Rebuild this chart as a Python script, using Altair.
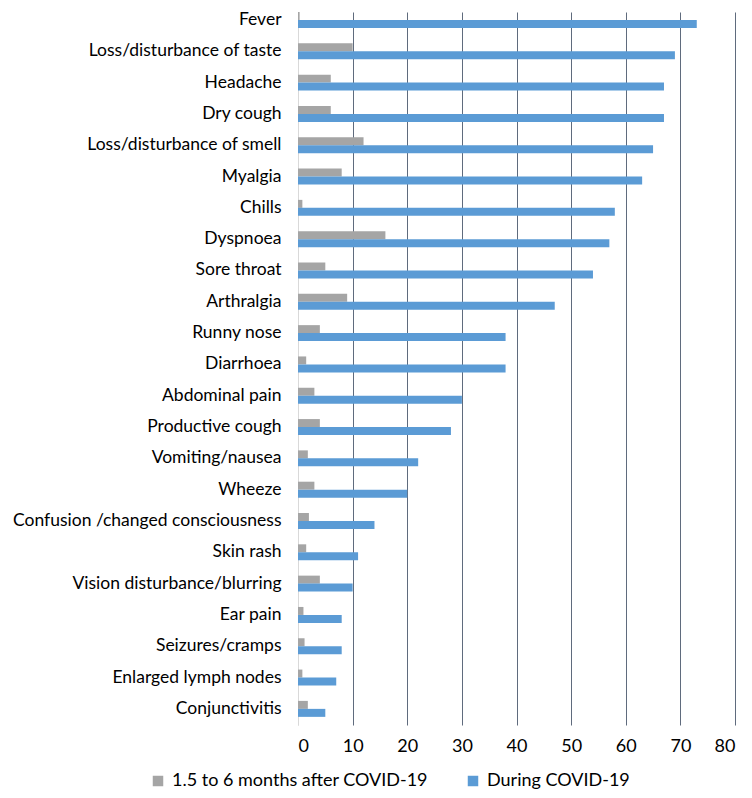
import altair as alt
import pandas as pd

symptoms = [
    "Fever\u00a0", "Loss/disturbance of taste", "Headache", "Dry cough\u00a0",
    "Loss/disturbance of smell", "Myalgia\u00a0", "Chills", "Dyspnoea",
    "Sore throat", "Arthralgia", "Runny nose", "Diarrhoea", "Abdominal pain",
    "Productive cough", "Vomiting/nausea", "Wheeze\u00a0",
    "Confusion /changed consciousness", "Skin rash", "Vision disturbance/blurring",
    "Ear pain", "Seizures/cramps", "Enlarged lymph nodes", "Conjunctivitis",
]
during = [73, 69, 67, 67, 65, 63, 58, 57, 54, 47, 38, 38, 30, 28, 22, 20, 14, 11, 10, 8, 8, 7, 5]
after = [0.3, 10, 6, 6, 12, 8, 0.8, 16, 5, 9, 4, 1.5, 3, 4, 1.8, 3, 2, 1.5, 4, 1, 1.2, 0.8, 1.8]
series = ["1.5 to 6 months after COVID-19", "During COVID-19"]
colors = ["#a5a5a5", "#5b9bd5"]

rows = []
for s, a, d in zip(symptoms, after, during):
    rows.append({"symptom": s, "series": series[0], "value": a})
    rows.append({"symptom": s, "series": series[1], "value": d})
df = pd.DataFrame(rows)

chart = alt.Chart(df).mark_bar().encode(
    x=alt.X(
        "value:Q",
        scale=alt.Scale(domain=[0, 80], nice=False),
        axis=alt.Axis(
            values=list(range(0, 81, 10)), title=None, domain=False, ticks=False,
            labelPadding=12, labelFontSize=18, labelColor="#000000",
            gridColor={"condition": {"test": "datum.value === 0", "value": "#d9d9d9"}, "value": "#5f6b7d"},
            gridWidth=1,
        ),
    ),
    y=alt.Y(
        "symptom:N", sort=symptoms,
        scale=alt.Scale(paddingInner=0.49, paddingOuter=0.13, align=0),
        axis=alt.Axis(
            title=None, ticks=False, domainColor="#d9d9d9", labelPadding=17,
            labelFontSize=17.5, labelColor="#000000", grid=False, labelLimit=400,
        ),
    ),
    yOffset=alt.YOffset("series:N", sort=series, scale=alt.Scale(paddingInner=0, paddingOuter=0)),
    color=alt.Color(
        "series:N",
        scale=alt.Scale(domain=series, range=colors),
        legend=alt.Legend(
            title=None, orient="none", legendX=-149, legendY=760, direction="horizontal",
            symbolType="square", symbolSize=110, symbolStrokeWidth=0, labelFontSize=18,
            labelColor="#000000", columnPadding=36, labelOffset=5, labelLimit=400,
        ),
    ),
).properties(
    width=437, height=713,
    autosize=alt.AutoSizeParams(type="none"),
    padding={"left": 290, "top": 4, "right": 9, "bottom": 65},
).configure(font="Lato").configure_view(stroke=None)

chart.save("out.html", embed_options={"renderer": "svg", "actions": False})
